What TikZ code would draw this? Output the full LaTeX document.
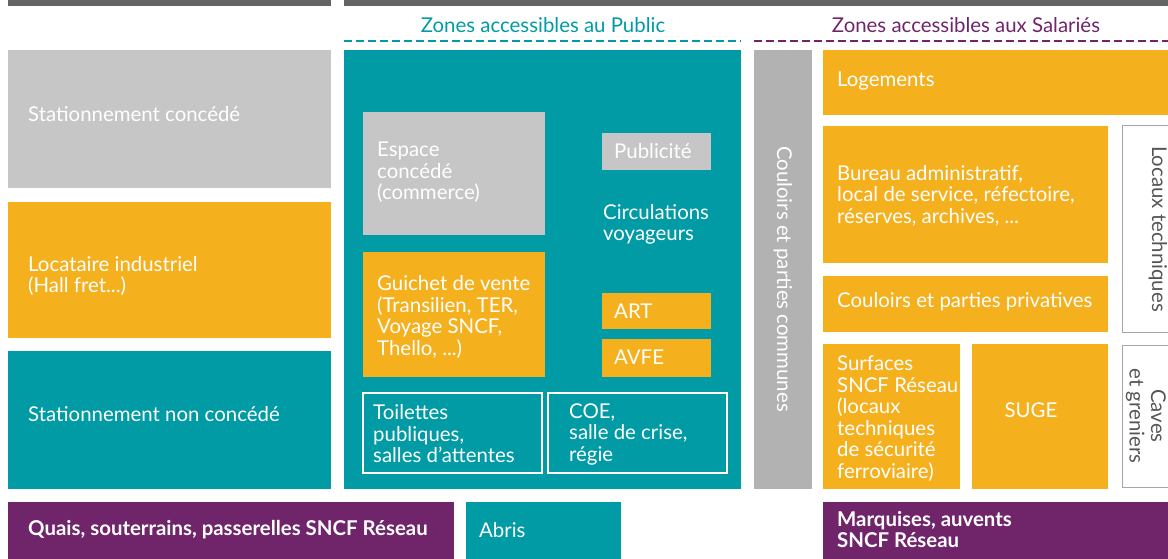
\documentclass[tikz,border=0pt]{standalone}
\usepackage{fontspec}
\setmainfont{Lato}
\definecolor{teal1}{HTML}{009BA4}
\definecolor{orange1}{HTML}{F5B01E}
\definecolor{purple1}{HTML}{70256B}
\definecolor{gray1}{HTML}{C6C6C6}
\definecolor{gray2}{HTML}{B2B2B2}
\definecolor{bar1}{HTML}{646464}
\definecolor{txtgray}{HTML}{555555}
\newcommand{\fs}{\fontsize{20.4}{21.5}\selectfont}
\tikzset{
  box/.style={anchor=north west, inner sep=0pt, outer sep=0pt},
  lbl/.style={anchor=west, align=left, inner sep=0pt, text=white, font=\fs},
  blbl/.style={lbl, font=\fs\bfseries},
  vlbl/.style={rotate=-90, inner sep=0pt, align=center, font=\fs},
  ttl/.style={inner sep=0pt, font=\fs},
}
\newcommand{\bx}[6]{\node[box, fill=#2, minimum width=#5pt, minimum height=#6pt] (#1) at (#3,#4) {};}
\begin{document}
\begin{tikzpicture}[x=1pt, y=-1pt]
\useasboundingbox (0,0) rectangle (1168,559);
% top bars
\bx{barL}{bar1}{8}{0}{323}{6}
\bx{barR}{bar1}{344}{0}{824}{6}
% titles
\node[ttl, text=teal1] (tpub) at (543,25) {Zones accessibles au Public};
\node[ttl, text=purple1] (tsal) at (966,25) {Zones accessibles aux Salariés};
\coordinate (dp1) at (344,41); \coordinate (dp2) at (741,41);
\coordinate (ds1) at (754,41); \coordinate (ds2) at (1168,41);
\draw[teal1, line width=2pt, dash pattern=on 8pt off 4pt] (dp1) -- (dp2);
\draw[purple1, line width=2pt, dash pattern=on 8pt off 4pt] (ds1) -- (ds2);
% left column
\bx{sc}{gray1}{8}{50}{323}{138}
\node[lbl] (sct) at (28,114) {Stationnement concédé};
\bx{li}{orange1}{8}{202}{323}{136}
\node[lbl] (lit) at (28,276) {Locataire industriel\\(Hall fret...)};
\bx{snc}{teal1}{8}{351}{323}{138}
\node[lbl] (snct) at (28,414) {Stationnement non concédé};
% bottom row
\bx{quais}{purple1}{8}{502}{446}{57}
\node[blbl] (quaist) at (28,530) {Quais, souterrains, passerelles SNCF Réseau};
\bx{abris}{teal1}{466}{502}{155}{57}
\node[lbl] (abrist) at (479,530) {Abris};
\bx{marq}{purple1}{823}{502}{345}{57}
\node[blbl] (marqt) at (837,529.5) {Marquises, auvents\\SNCF Réseau};
% public zone
\bx{pub}{teal1}{344}{50}{397}{439}
\bx{esp}{gray1}{363}{112}{182}{123}
\node[lbl] (espt) at (377,172.5) {Espace\\concédé\\(commerce)};
\bx{gui}{orange1}{363}{252}{182}{125}
\node[lbl] (guit) at (377,317) {Guichet de vente\\(Transilien, TER,\\Voyage SNCF,\\Thello, ...)};
\bx{pubs}{gray1}{602}{133}{109}{37}
\node[lbl] (pubst) at (614,151.5) {Publicité};
\node[lbl] (circ) at (603,224.5) {Circulations\\voyageurs};
\bx{art}{orange1}{602}{293}{109}{36}
\node[lbl] (artt) at (614,311) {ART};
\bx{avfe}{orange1}{602}{339}{109}{38}
\node[lbl] (avfet) at (614,357) {AVFE};
\node[box, draw=white, line width=1.2pt, minimum width=179pt, minimum height=80pt] (toil) at (363,393) {};
\node[lbl] (toilt) at (373,434) {Toilettes\\publiques,\\salles d’attentes};
\node[box, draw=white, line width=1.2pt, minimum width=179pt, minimum height=80pt] (coe) at (548,393) {};
\node[lbl] (coet) at (569,434) {COE,\\salle de crise,\\régie};
% common corridor
\bx{coul}{gray2}{754}{50}{58}{439}
\node[vlbl, text=white] (coult) at (783,279) {Couloirs et parties communes};
% employee zone
\bx{loge}{orange1}{823}{50}{345}{65}
\node[lbl] (loget) at (837,81) {Logements};
\bx{bur}{orange1}{823}{126}{285}{137}
\node[lbl] (burt) at (837,195.5) {Bureau administratif,\\local de service, réfectoire,\\réserves, archives, ...};
\bx{cpp}{orange1}{823}{276}{285}{56}
\node[lbl] (cppt) at (837,302) {Couloirs et parties privatives};
\bx{surf}{orange1}{823}{344}{137}{145}
\node[lbl] (surft) at (837,418.5) {Surfaces\\SNCF Réseau\\(locaux\\techniques\\de sécurité\\ferroviaire)};
\bx{suge}{orange1}{972}{344}{136}{145}
\node[inner sep=0pt, text=white, font=\fs] (suget) at (1031,410) {SUGE};
\node[box, draw=gray!70, line width=1pt, minimum width=60pt, minimum height=206pt] (loc) at (1122,126) {};
\node[vlbl, text=txtgray] (loct) at (1158,229) {Locaux techniques};
\node[box, draw=gray!70, line width=1pt, minimum width=60pt, minimum height=142pt] (cave) at (1122,345) {};
\node[vlbl, text=txtgray] (cavet) at (1146,416) {Caves\\et greniers};
\end{tikzpicture}
\end{document}
